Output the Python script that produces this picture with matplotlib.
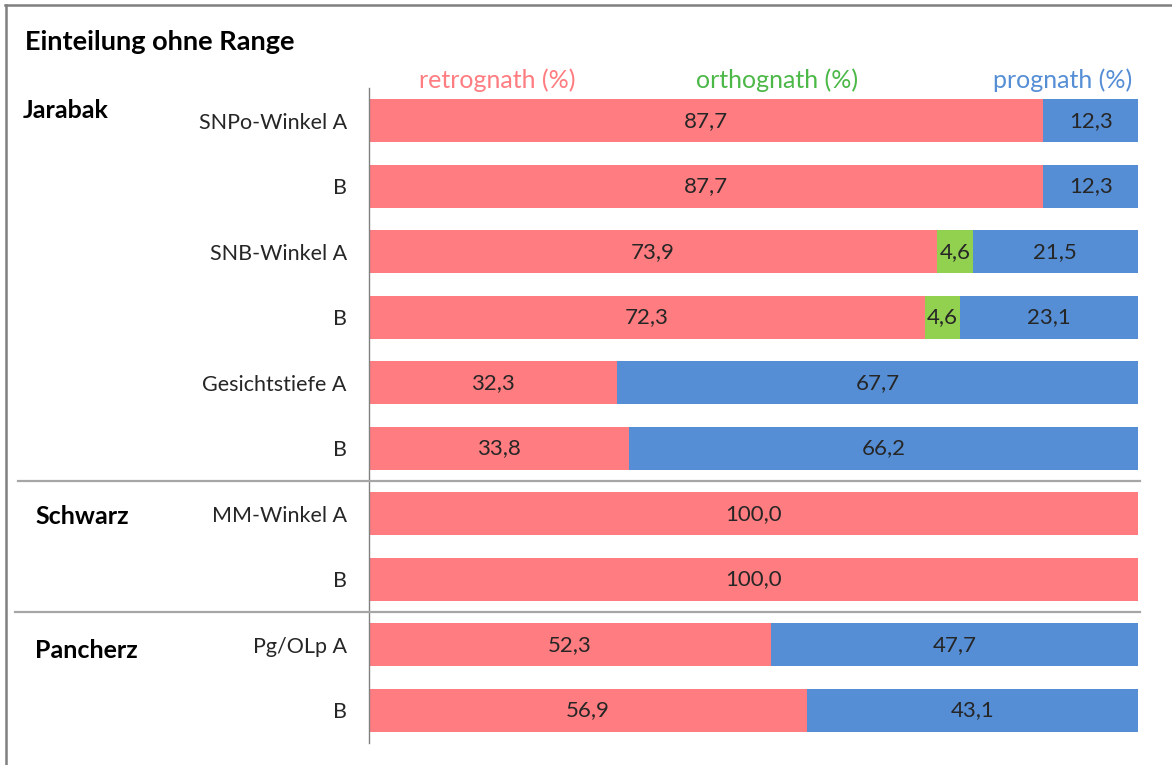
import numpy as np
import matplotlib
matplotlib.use('Agg')
from matplotlib import pyplot as plt
from matplotlib.lines import Line2D
from matplotlib import transforms

# data
rows = ['SNPo-Winkel A', 'B', 'SNB-Winkel A', 'B', 'Gesichtstiefe A', 'B',
        'MM-Winkel A', 'B', 'Pg/OLp A', 'B']
retro = [87.7, 87.7, 73.9, 72.3, 32.3, 33.8, 100.0, 100.0, 52.3, 56.9]
ortho = [0, 0, 4.6, 4.6, 0, 0, 0, 0, 0, 0]
progn = [12.3, 12.3, 21.5, 23.1, 67.7, 66.2, 0, 0, 47.7, 43.1]
groups = ['Jarabak', 'Schwarz', 'Pancherz']
series_names = ['retrognath (%)', 'orthognath (%)', 'prognath (%)']

c_red = '#FF7C80'
c_green = '#92D050'
c_blue = '#558ED5'

plt.rcParams['font.family'] = ['Lato', 'DejaVu Sans']

W, H = 1172, 765
fig = plt.figure(figsize=(W/100, H/100), dpi=100)
ax = fig.add_axes([369/W, 1-743/H, (1138-369)/W, (743-88)/H])

y = np.arange(len(rows))
retro = np.array(retro)
ortho = np.array(ortho)
progn = np.array(progn)
bh = 0.66

ax.barh(y, retro, height=bh, color=c_red)
ax.barh(y, ortho, left=retro, height=bh, color=c_green)
ax.barh(y, progn, left=retro+ortho, height=bh, color=c_blue)

for i in range(len(rows)):
    left = 0
    for v in (retro[i], ortho[i], progn[i]):
        if v > 0:
            ax.text(left + v/2, y[i], f'{v:.1f}'.replace('.', ','),
                    ha='center', va='center', fontsize=16, color='#262626')
        left += v

ax.set_xlim(0, 100)
ax.set_ylim(len(rows)-0.5, -0.5)
ax.set_xticks([])
ax.set_yticks(y)
ax.set_yticklabels(rows, fontsize=15.5, color='#262626')
ax.tick_params(axis='y', length=0, pad=16)
for s in ['top', 'right', 'bottom']:
    ax.spines[s].set_visible(False)
ax.spines['left'].set_color('#808080')
ax.spines['left'].set_linewidth(1)

# header labels
hy = 1 - 80/H
fig.text(497/W, hy, series_names[0], color=c_red, fontsize=18, ha='center', va='center')
fig.text(777/W, hy, series_names[1], color='#4CB848', fontsize=18, ha='center', va='center')
fig.text(1132/W, hy, series_names[2], color=c_blue, fontsize=18, ha='right', va='center')

# title
fig.text(25/W, 1-42/H, 'Einteilung ohne Range', fontsize=19.5, fontweight='bold',
         ha='left', va='center', color='black')

# group labels
group_x = [23, 35, 35]
group_y = [111, 516, 651]
for g, gx, gy in zip(groups, group_x, group_y):
    fig.text(gx/W, 1-gy/H, g, fontsize=18, fontweight='bold', ha='left', va='center')

# separators
tr = transforms.blended_transform_factory(fig.transFigure, ax.transData)
for yy, x0 in [(5.5, 18), (7.5, 15)]:
    fig.add_artist(Line2D([x0/W, 1140/W], [yy, yy], transform=tr,
                          color='#A6A6A6', lw=1.6))

# chart border (top and left)
fig.add_artist(Line2D([5/W, 1], [1-4.5/H, 1-4.5/H], color='#808080', lw=1.8))
fig.add_artist(Line2D([5.5/W, 5.5/W], [0, 1-4.5/H], color='#808080', lw=1.8))

fig.savefig('out.png', dpi=100)
